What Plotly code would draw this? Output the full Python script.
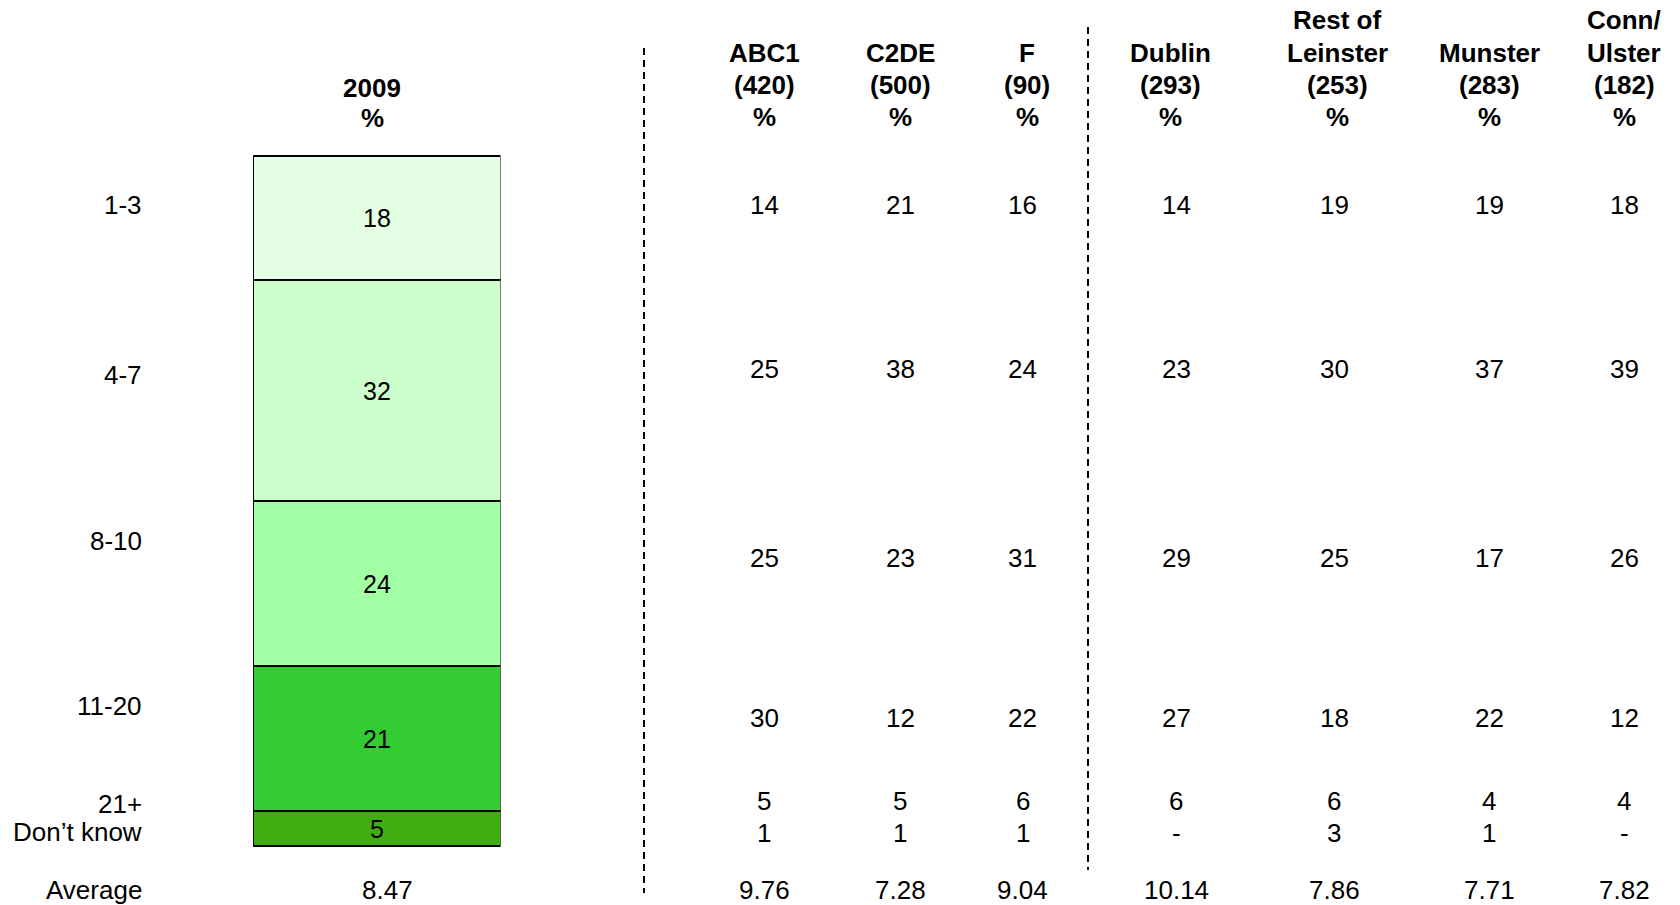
import plotly.graph_objects as go

# ---------------- data ----------------
rows = ["1-3", "4-7", "8-10", "11-20", "21+", "Don’t know"]
bar_2009 = [18, 32, 24, 21, 5]          # 2009 stacked bar (first five bands)
avg_2009 = "8.47"

col_headers = [
    ["ABC1", "(420)", "%"],
    ["C2DE", "(500)", "%"],
    ["F", "(90)", "%"],
    ["Dublin", "(293)", "%"],
    ["Rest of", "Leinster", "(253)", "%"],
    ["Munster", "(283)", "%"],
    ["Conn/", "Ulster", "(182)", "%"],
]
abc1 = ["14", "25", "25", "30", "5", "1"]
c2de = ["21", "38", "23", "12", "5", "1"]
f_grp = ["16", "24", "31", "22", "6", "1"]
dublin = ["14", "23", "29", "27", "6", "-"]
rest_leinster = ["19", "30", "25", "18", "6", "3"]
munster = ["19", "37", "17", "22", "4", "1"]
conn_ulster = ["18", "39", "26", "12", "4", "-"]
averages = ["9.76", "7.28", "9.04", "10.14", "7.86", "7.71", "7.82"]
columns = [abc1, c2de, f_grp, dublin, rest_leinster, munster, conn_ulster]

# ---------------- layout constants (pixels) ----------------
W, H = 1680, 905
bar_colors = ["#E5FFE5", "#CCFFCC", "#A3FFA3", "#33CC33", "#3FAF0F"]
BAR_LEFT, BAR_RIGHT = 253, 500.5
BAR_TOP, BAR_BOTTOM = 156, 845.7
col_x = [764, 900, 1023, 1176, 1334, 1489, 1624]
header_x = [764, 900, 1027, 1170, 1337, 1489, 1624]
row_label_y = [204.6, 375, 541, 706, 803.5, 831.5]
value_y = [204.6, 369, 558, 717.5, 801, 833]
avg_y = 890
label_right_x = 144
header_line_y = [20.4, 52.5, 84.6, 116.8]   # bottom-aligned header lines
FONT = "Liberation Sans, Arial, sans-serif"
FS = 26
BFS = 25
HFS = 26


def px(x):
    return x / W


def py(y):
    return 1 - y / H


total = sum(bar_2009)
unit = (BAR_BOTTOM - BAR_TOP) / total
y_top_val = -BAR_TOP / unit
y_bot_val = (H - BAR_TOP) / unit

fig = go.Figure()
for name, v, c in zip(rows, bar_2009, bar_colors):
    fig.add_trace(go.Bar(
        x=["2009"], y=[v], name=name, width=1,
        marker=dict(color=c, line=dict(color="black", width=2)),
        text=[str(v)], textposition="inside", insidetextanchor="middle",
        constraintext="none", textangle=0,
        insidetextfont=dict(family=FONT, size=BFS, color="black"),
        hoverinfo="skip",
    ))

ann = []


def add_text(x, y, t, size=FS, bold=False, xanchor="center"):
    ann.append(dict(
        x=px(x), y=py(y), xref="paper", yref="paper", text=f"<b>{t}</b>" if bold else t,
        showarrow=False, xanchor=xanchor, yanchor="middle",
        font=dict(family=FONT, size=size, color="black"),
    ))


# row labels
for lab, y in zip(rows, row_label_y):
    add_text(label_right_x, y, lab, xanchor="right")
add_text(label_right_x, avg_y, "Average", xanchor="right")

# 2009 header and average
add_text(372, 88, "2009", size=HFS, bold=True)
add_text(372, 118, "%", size=HFS, bold=True)
add_text(387, avg_y, avg_2009)

# column headers and values
for x, hx, hdr, vals, avg in zip(col_x, header_x, col_headers, columns, averages):
    ys = header_line_y[-len(hdr):]
    for line, y in zip(hdr, ys):
        add_text(hx, y, line, size=HFS, bold=True)
    for v, y in zip(vals, value_y):
        add_text(x, y, v)
    add_text(x, avg_y, avg)

shapes = [
    dict(type="line", xref="paper", yref="paper", x0=px(644), x1=px(644), y0=py(48), y1=py(893),
         line=dict(color="black", width=2, dash="7px,5px")),
    dict(type="line", xref="paper", yref="paper", x0=px(1088), x1=px(1088), y0=py(27), y1=py(870),
         line=dict(color="black", width=2, dash="7px,5px")),
]

fig.update_layout(
    width=W, height=H, margin=dict(l=0, r=0, t=0, b=0),
    paper_bgcolor="white", plot_bgcolor="white",
    barmode="stack", bargap=0, showlegend=False,
    xaxis=dict(domain=[px(BAR_LEFT), px(BAR_RIGHT)], range=[-0.5, 0.5], visible=False, fixedrange=True),
    yaxis=dict(range=[y_bot_val, y_top_val], visible=False, fixedrange=True),
    annotations=ann, shapes=shapes,
)

fig.write_html("out.html", config={"displayModeBar": False},
               post_script="document.body.style.margin='0';document.body.style.overflow='hidden';")
